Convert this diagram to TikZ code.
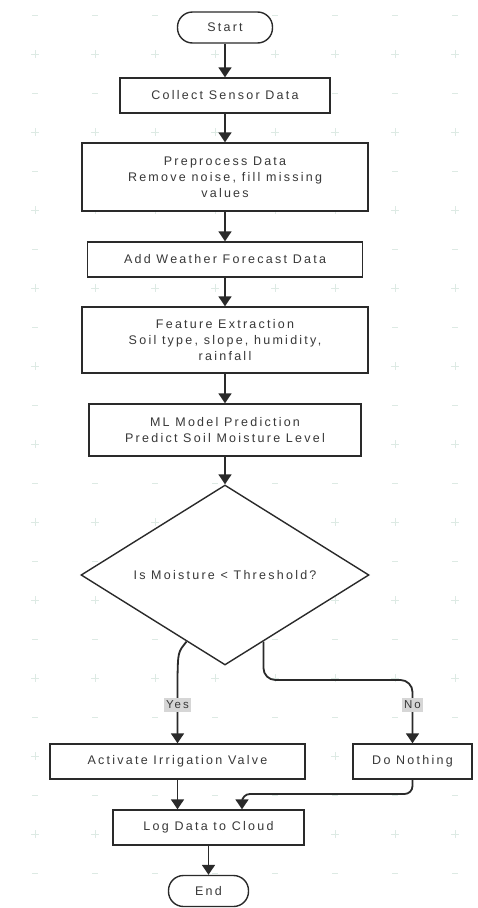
\documentclass[tikz,border=0pt]{standalone}
\usepackage{fontspec}
\setmainfont{Liberation Sans}[LetterSpace=18]
\usetikzlibrary{shapes.geometric,arrows.meta,calc}
\definecolor{ln}{HTML}{2A2A2A}
\definecolor{tx}{HTML}{383838}
\definecolor{gridc}{HTML}{DDEAE4}
\definecolor{lbl}{HTML}{D6D6D6}
\tikzset{
  box/.style={draw=ln, line width=1.4pt, fill=white, rectangle, inner sep=0pt,
    text=tx, align=center, font=\fontsize{12.5}{16}\selectfont},
  term/.style={box, rounded corners=15pt},
  flow/.style={draw=ln, line width=1.8pt, -{Triangle[length=10pt,width=13pt]}},
  lab/.style={fill=lbl, text=tx, inner sep=2.5pt, font=\fontsize{11.5}{13}\selectfont},
  txt/.style={text=tx, inner sep=0pt, font=\fontsize{12.5}{16}\selectfont},
  gridmark/.style={draw=gridc, line width=1pt}
}
\begin{document}
\begin{tikzpicture}[x=1pt,y=-1pt]
\path[use as bounding box] (0,0) rectangle (478,908);
% faint background grid marks
\foreach \gx in {35,95,155,215,275,335,395,455} {
  \foreach \gy in {54,132,...,912} {
    \draw[gridmark] (\gx,\gy) +(-4,0) -- +(4,0) +(0,-4) -- +(0,4);
  }
  \foreach \gy in {15,93,...,900} {
    \draw[gridmark] (\gx,\gy) +(-3,0) -- +(3,0);
  }
}
% nodes
\node[term, minimum width=95pt, minimum height=31pt] (start) at (225,27.5) {Start};
\node[box, minimum width=210pt, minimum height=35pt] (collect) at (225,95.5) {Collect Sensor Data};
\node[box, minimum width=286pt, minimum height=68pt] (prep) at (225,177) {Preprocess Data\\Remove noise, fill missing\\values};
\node[box, minimum width=275pt, minimum height=35pt] (weather) at (225,259.5) {Add Weather Forecast Data};
\node[box, minimum width=286pt, minimum height=66pt] (feat) at (225,340) {Feature Extraction\\Soil type, slope, humidity,\\rainfall};
\node[box, minimum width=272pt, minimum height=52pt] (ml) at (225,430) {ML Model Prediction\\Predict Soil Moisture Level};
\node[box, diamond, minimum width=288pt, minimum height=180pt] (dec) at (225,575) {};
\node[txt] (dectext) at (dec.center) {Is Moisture < Threshold?};
\node[box, minimum width=255pt, minimum height=35pt] (act) at (177.5,761.5) {Activate Irrigation Valve};
\node[box, minimum width=119pt, minimum height=35pt] (nothing) at (412.5,761.5) {Do Nothing};
\node[box, minimum width=191pt, minimum height=35pt] (log) at (208.5,827.5) {Log Data to Cloud};
\node[term, minimum width=80pt, minimum height=31pt] (end) at (208.5,891) {End};
% connectors
\draw[flow] (start) -- (collect);
\draw[flow] (collect) -- (prep);
\draw[flow] (prep) -- (weather);
\draw[flow] (weather) -- (feat);
\draw[flow] (feat) -- (ml);
\draw[flow] (ml) -- (dec);
\coordinate (ybend) at (177.5,678);
\draw[flow] (dec.-120) .. controls (178,652) .. (ybend) -- (act.north);
\coordinate (nbend) at (412.5,680);
\draw[flow, rounded corners=12pt] (dec.-60) |- (nbend) -- (nothing.north);
\node[lab] (yes) at (177.5,705) {Yes};
\node[lab] (no) at (412.5,705) {No};
\draw[flow] (act.south) -- (act.south |- log.north);
\coordinate (lbend) at (242,794);
\draw[flow, rounded corners=8pt] (nothing.south) |- (lbend) -- (lbend |- log.north);
\draw[flow] (log) -- (end);
\end{tikzpicture}
\end{document}
